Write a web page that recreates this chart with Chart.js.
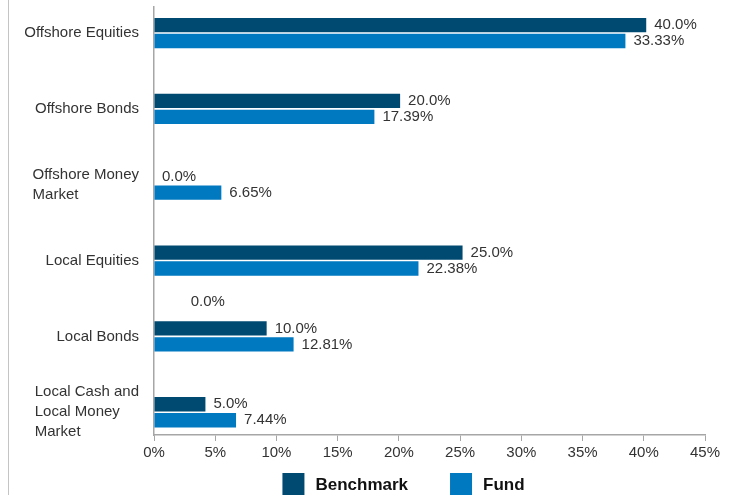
<!DOCTYPE html>
<html lang="en">
<head>
    <meta charset="UTF-8">
    <title>Asset allocation chart</title>
    <script src="https://cdn.jsdelivr.net/npm/chart.js"></script>
    <style>
        body { margin: 0; background: #fff; }
        .wrap { position: relative; width: 733px; height: 495px; }
        .edge { position: absolute; left: 8px; top: 0; width: 1px; height: 495px; background: #c4c4c4; }
    </style>
</head>
<body>
<div class="wrap">
    <div class="edge"></div>
    <canvas id="barChart" width="733" height="495"></canvas>
</div>
<script>
    // categories, top to bottom
    var categories = [
        ['Offshore Equities'],
        ['Offshore Bonds'],
        ['Offshore Money', 'Market'],
        ['Local Equities'],
        ['Local Bonds'],
        ['Local Cash and', 'Local Money', 'Market']
    ];
    // bar lengths as drawn in the picture (they don't all agree with the printed labels)
    var benchmark = [40.2, 20.1, 0.0, 25.2, 9.2, 4.2];
    var fund = [38.5, 18.0, 5.5, 21.6, 11.4, 6.7];
    // printed value labels
    var benchmarkLabels = ['40.0%', '20.0%', '0.0%', '25.0%', '10.0%', '5.0%'];
    var fundLabels = ['33.33%', '17.39%', '6.65%', '22.38%', '12.81%', '7.44%'];
    var xTicks = [0, 5, 10, 15, 20, 25, 30, 35, 40, 45];

    // the odd loose label that sits between Local Equities and Local Bonds
    var looseLabels = [{ text: '0.0%', value: 3.0, slot: 3.55 }];

    var labelFont = '15px "Liberation Sans", Arial, sans-serif';
    var textColor = '#333333';

    // category names: lines left aligned, block right aligned against the axis
    var categoryLabels = {
        id: 'categoryLabels',
        afterDraw: function (chart) {
            var ctx = chart.ctx;
            var yScale = chart.scales.y;
            var right = chart.chartArea.left - 15;
            var lineH = 20;
            ctx.save();
            ctx.font = labelFont;
            ctx.fillStyle = textColor;
            ctx.textBaseline = 'middle';
            ctx.textAlign = 'left';
            categories.forEach(function (lines, i) {
                var widest = 0;
                lines.forEach(function (l) { widest = Math.max(widest, ctx.measureText(l).width); });
                var cy = yScale.getPixelForValue(i);
                var top = cy - (lines.length - 1) * lineH / 2;
                lines.forEach(function (l, j) {
                    var x = lines.length > 1 ? right - widest : right - ctx.measureText(l).width;
                    ctx.fillText(l, x, top + j * lineH);
                });
            });
            ctx.restore();
        }
    };

    // value labels at the end of each bar
    var valueLabels = {
        id: 'valueLabels',
        afterDatasetsDraw: function (chart) {
            var ctx = chart.ctx;
            ctx.save();
            ctx.font = labelFont;
            ctx.fillStyle = textColor;
            ctx.textBaseline = 'middle';
            ctx.textAlign = 'left';
            chart.data.datasets.forEach(function (ds, d) {
                var meta = chart.getDatasetMeta(d);
                meta.data.forEach(function (bar, i) {
                    ctx.fillText(ds.valueLabels[i], bar.x + 8, bar.y);
                });
            });
            looseLabels.forEach(function (l) {
                ctx.fillText(l.text, chart.scales.x.getPixelForValue(l.value), chart.scales.y.getPixelForValue(l.slot));
            });
            ctx.restore();
        }
    };

    // legend under the axis
    var bottomLegend = {
        id: 'bottomLegend',
        afterDraw: function (chart) {
            var ctx = chart.ctx;
            var box = 22, gap = 11, itemGap = 42;
            ctx.save();
            ctx.font = 'bold 17px "Liberation Sans", Arial, sans-serif';
            var sets = chart.data.datasets;
            var total = 0;
            sets.forEach(function (ds, i) {
                total += box + gap + ctx.measureText(ds.label).width + (i < sets.length - 1 ? itemGap : 0);
            });
            var x = (chart.chartArea.left + chart.chartArea.right) / 2 - 26 - total / 2;
            var top = chart.height - box;
            ctx.textBaseline = 'middle';
            ctx.textAlign = 'left';
            sets.forEach(function (ds) {
                ctx.fillStyle = ds.backgroundColor;
                ctx.fillRect(x, top, box, box);
                ctx.fillStyle = '#111111';
                ctx.fillText(ds.label, x + box + gap, top + box / 2 + 1);
                x += box + gap + ctx.measureText(ds.label).width + itemGap;
            });
            ctx.restore();
        }
    };

    var ctx = document.getElementById('barChart').getContext('2d');
    var chart = new Chart(ctx, {
        type: 'bar',
        data: {
            datasets: [{
                label: 'Benchmark',
                backgroundColor: '#004a72',
                valueLabels: benchmarkLabels,
                data: benchmark.map(function (v, i) { return { x: v, y: i }; })
            }, {
                label: 'Fund',
                backgroundColor: '#0079c1',
                valueLabels: fundLabels,
                data: fund.map(function (v, i) { return { x: v, y: i }; })
            }]
        },
        options: {
            indexAxis: 'y',
            responsive: false,
            animation: false,
            categoryPercentage: 0.42,
            barPercentage: 0.9,
            layout: { padding: { top: 7, right: 28, left: 0, bottom: 0 } },
            plugins: {
                legend: { display: false },
                tooltip: { enabled: false }
            },
            scales: {
                x: {
                    type: 'linear',
                    min: 0,
                    max: 45,
                    afterBuildTicks: function (s) { s.ticks = xTicks.map(function (v) { return { value: v }; }); },
                    afterFit: function (s) { s.height = 60; },
                    ticks: {
                        font: { family: '"Liberation Sans", Arial, sans-serif', size: 15 },
                        color: textColor,
                        padding: 3,
                        callback: function (v) { return v + '%'; }
                    },
                    grid: { drawOnChartArea: false, drawTicks: true, tickLength: 6, color: '#a6a6a6' },
                    border: { color: '#a6a6a6', width: 1.5 }
                },
                y: {
                    type: 'linear',
                    reverse: true,
                    offset: false,
                    min: -0.343,
                    max: 5.30,
                    afterBuildTicks: function (s) { s.ticks = categories.map(function (c, i) { return { value: i }; }); },
                    afterFit: function (s) { s.width = 154; },
                    ticks: { display: false },
                    grid: { display: false, offset: false },
                    border: { color: '#a6a6a6', width: 1.5 }
                }
            }
        },
        plugins: [categoryLabels, valueLabels, bottomLegend]
    });
</script>
</body>
</html>
